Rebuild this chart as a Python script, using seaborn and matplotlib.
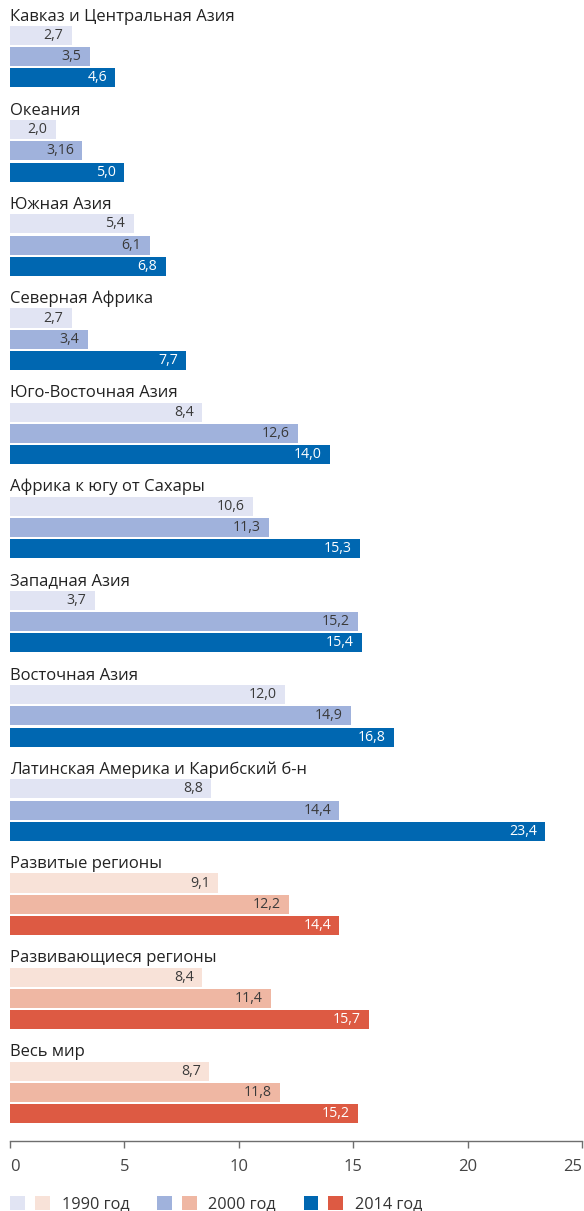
import numpy as np
import pandas as pd
import matplotlib
matplotlib.use("Agg")
import matplotlib.pyplot as plt
from matplotlib.patches import Rectangle
from matplotlib.legend_handler import HandlerTuple
import seaborn as sns

# ---- data ----
regions = [
    "Кавказ и Центральная Азия",
    "Океания",
    "Южная Азия",
    "Северная Африка",
    "Юго-Восточная Азия",
    "Африка к югу от Сахары",
    "Западная Азия",
    "Восточная Азия",
    "Латинская Америка и Карибский б-н",
    "Развитые регионы",
    "Развивающиеся регионы",
    "Весь мир",
]
v1990 = [2.7, 2.0, 5.4, 2.7, 8.4, 10.6, 3.7, 12.0, 8.8, 9.1, 8.4, 8.7]
v2000 = [3.5, 3.16, 6.1, 3.4, 12.6, 11.3, 15.2, 14.9, 14.4, 12.2, 11.4, 11.8]
v2014 = [4.6, 5.0, 6.8, 7.7, 14.0, 15.3, 15.4, 16.8, 23.4, 14.4, 15.7, 15.2]
years = ["1990 год", "2000 год", "2014 год"]
palette_kind = ["blue"] * 9 + ["red"] * 3
x_ticks = [0, 5, 10, 15, 20, 25]

colors = {
    ("blue", 0): "#e1e4f3", ("blue", 1): "#a0b2dc", ("blue", 2): "#0067b1",
    ("red", 0): "#f8e2d8", ("red", 1): "#efb7a3", ("red", 2): "#dd5a43",
}
label_colors = {0: "#3a3a3a", 1: "#3a3a3a", 2: "#ffffff"}

# ---- layout ----
W, H, DPI = 584, 1211, 100
BAR_PX = 21.2
GROUP_PITCH = 94.17 / BAR_PX
FIRST_CENTER_PX = 35.5
SPINE_PX = 1141
AX_LEFT_PX, AX_RIGHT_PX = 10, 582

sns.set_style("white")
plt.rcParams["font.family"] = ["Open Sans", "DejaVu Sans"]
FS_VAL = 10.2
FS_TITLE = 12
FS_TICK = 12
FS_LEG = 11.7

rows = []
for g, reg in enumerate(regions):
    for k, vals in enumerate([v1990, v2000, v2014]):
        rows.append({
            "region": reg,
            "year": years[k],
            "value": vals[g],
            "pos": g * GROUP_PITCH + k,
            "ckey": f"{palette_kind[g]}{k}",
            "k": k,
            "g": g,
        })
df = pd.DataFrame(rows)
pal = {f"{kind}{k}": c for (kind, k), c in colors.items()}

fig = plt.figure(figsize=(W / DPI, H / DPI), dpi=DPI)
ax = fig.add_axes([AX_LEFT_PX / W, (H - SPINE_PX) / H,
                   (AX_RIGHT_PX - AX_LEFT_PX) / W, SPINE_PX / H])

sns.barplot(data=df, x="value", y="pos", hue="ckey", palette=pal,
            orient="y", native_scale=True, dodge=False, width=0.9,
            legend=False, ax=ax, saturation=1, linewidth=0, err_kws={"linewidth": 0})

top = -FIRST_CENTER_PX / BAR_PX
bottom = (SPINE_PX - FIRST_CENTER_PX) / BAR_PX
ax.set_ylim(bottom, top)
ax.set_xlim(0, 25)

# group titles
for g, reg in enumerate(regions):
    ax.text(0, g * GROUP_PITCH - 15 / BAR_PX, reg, ha="left", va="baseline",
            fontsize=FS_TITLE, color="#222222")

# value labels
for _, r in df.iterrows():
    txt = str(r["value"]).replace(".", ",")
    ax.annotate(txt, (r["value"], r["pos"]), xytext=(-6, 0),
                textcoords="offset points", ha="right", va="center",
                fontsize=FS_VAL, color=label_colors[r["k"]])

# axis styling
for s in ["top", "right", "left"]:
    ax.spines[s].set_visible(False)
ax.spines["bottom"].set_color("#6e6e6e")
ax.spines["bottom"].set_linewidth(1.0)
ax.set_xticks(x_ticks)
ax.set_xticklabels([str(t) for t in x_ticks])
ax.tick_params(axis="x", direction="out", length=5, width=1, color="#6e6e6e",
               labelsize=FS_TICK, labelcolor="#444444", pad=8, bottom=True)
tl = ax.get_xticklabels()
tl[0].set_ha("left")
tl[-1].set_ha("right")
ax.set_yticks([])
ax.set_xlabel("")
ax.set_ylabel("")

# legend: pairs of squares
handles = []
for k in range(3):
    hb = Rectangle((0, 0), 1, 1, facecolor=colors[("blue", k)], edgecolor="none")
    hr = Rectangle((0, 0), 1, 1, facecolor=colors[("red", k)], edgecolor="none")
    handles.append((hb, hr))
leg = fig.legend(handles, years, handler_map={tuple: HandlerTuple(ndivide=None, pad=0.62)},
                 loc="center left", bbox_to_anchor=(AX_LEFT_PX / W, 7 / H),
                 ncol=3, frameon=False, fontsize=FS_LEG, handlelength=2.45,
                 handleheight=0.94, handletextpad=0.72, columnspacing=1.7,
                 borderpad=0, borderaxespad=0)
for t in leg.get_texts():
    t.set_color("#333333")

fig.savefig("out.png", dpi=DPI)
